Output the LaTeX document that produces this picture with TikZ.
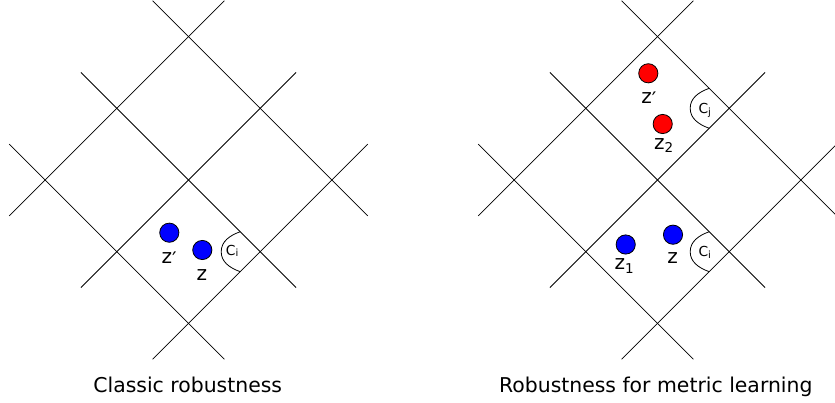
\documentclass[tikz,border=0pt]{standalone}
\usepackage{fontspec}
\setmainfont{DejaVu Sans}
\usetikzlibrary{calc}
\newcommand{\zsub}[1]{z\raisebox{-3pt}{\fontsize{13.5}{13.5}\selectfont #1}}
\newcommand{\csub}[1]{C\raisebox{-1.5pt}{\fontsize{10}{10}\selectfont #1}}
\newcommand{\zprime}{z\raisebox{-3pt}{′}}
\begin{document}
\begin{tikzpicture}[x=1pt,y=-1pt,
  gridline/.style={line width=0.8pt, black},
  dot/.style={circle, draw=black, line width=0.8pt, minimum size=19.2pt, inner sep=0pt},
  bluedot/.style={dot, fill=blue},
  reddot/.style={dot, fill=red},
  lbl/.style={font=\fontsize{20}{20}\selectfont, anchor=base west, inner sep=0pt},
  clbl/.style={font=\fontsize{13.8}{13.8}\selectfont, anchor=base west, inner sep=0pt},
  captiontext/.style={font=\fontsize{20.4}{20.4}\selectfont, anchor=base, inner sep=0pt},
  cellarc/.style={line width=0.8pt}]
\useasboundingbox (0,0) rectangle (835,403);

\def\s{71.7}
% grids
\foreach \cx in {188.5,657.5}{
  \foreach \j in {-1,0,1}{
    \draw[gridline] ({\cx-1.5*\s+\j*\s},{180+1.5*\s+\j*\s}) -- ({\cx+1.5*\s+\j*\s},{180-1.5*\s+\j*\s});
    \draw[gridline] ({\cx-1.5*\s+\j*\s},{180-1.5*\s-\j*\s}) -- ({\cx+1.5*\s+\j*\s},{180+1.5*\s-\j*\s});
  }
}

% cell corners
\coordinate (cornerL) at (260.2,251.7);
\coordinate (cornerRi) at (729.2,251.7);
\coordinate (cornerRj) at (729.2,108.3);

\foreach \c in {cornerL,cornerRi,cornerRj}{
  \draw[cellarc] ($(\c)+(-20,-20)$) .. controls ($(\c)+(-31,-16)$) and ($(\c)+(-39,-10)$) .. ($(\c)+(-39,0)$)
    .. controls ($(\c)+(-39,10)$) and ($(\c)+(-31,16)$) .. ($(\c)+(-20,20)$);
}

% left panel
\node[bluedot] (lzp) at (169.3,232.7) {};
\node[bluedot] (lz) at (202.3,250) {};
\node[lbl] (lzplbl) at (161.5,263.3) {\zprime};
\node[lbl] (lzlbl) at (196.5,280) {z};
\node[clbl] (lci) at (225.7,255.3) {\csub{i}};
\node[captiontext] (capL) at (187.7,392.3) {Classic robustness};

% right panel
\node[reddot] (rzp) at (648.3,73.3) {};
\node[reddot] (rz2) at (662.7,124) {};
\node[bluedot] (rz1) at (625.7,244.5) {};
\node[bluedot] (rz) at (673,234.7) {};
\node[lbl] (rzplbl) at (641.1,104) {\zprime};
\node[lbl] (rz2lbl) at (653.8,150) {\zsub{2}};
\node[lbl] (rz1lbl) at (614.5,270) {\zsub{1}};
\node[lbl] (rzlbl) at (667.1,264) {z};
\node[clbl] (rci) at (698.3,257) {\csub{i}};
\node[clbl] (rcj) at (698.3,114) {\csub{j}};
\node[captiontext] (capR) at (655.8,392.3) {Robustness for metric learning};
\end{tikzpicture}
\end{document}
